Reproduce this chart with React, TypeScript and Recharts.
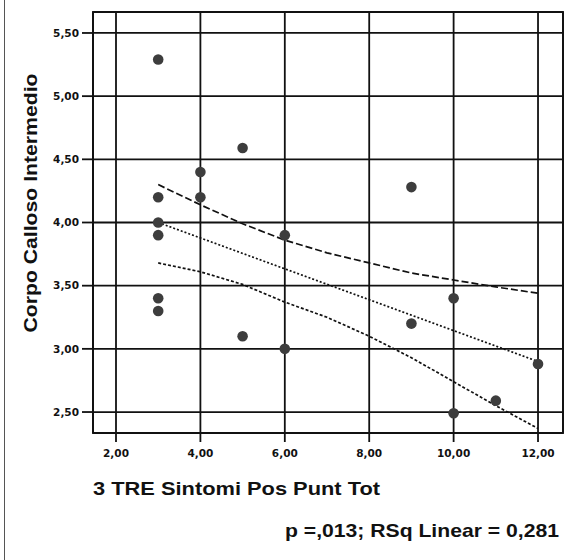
import React from 'react';
import {
  ScatterChart,
  Scatter,
  XAxis,
  YAxis,
  CartesianGrid,
  ReferenceArea,
} from 'recharts';

// Observed cases: symptom score vs. corpus callosum (intermediate) measure
const pointX = [3, 3, 3, 3, 3, 3, 4, 4, 5, 5, 6, 6, 9, 9, 10, 10, 11, 12];
const pointY = [5.29, 4.2, 4.0, 3.9, 3.4, 3.3, 4.4, 4.2, 4.59, 3.1, 3.9, 3.0, 4.28, 3.2, 3.4, 2.49, 2.59, 2.88];

// Linear fit line
const fitX = [3, 12];
const fitY = [4.0, 2.9];

// 95% confidence band for the mean
const bandX = [3, 4, 5, 6, 7, 8, 9, 10, 11, 12];
const upperY = [4.3, 4.14, 3.99, 3.86, 3.76, 3.68, 3.6, 3.545, 3.49, 3.44];
const lowerY = [3.68, 3.61, 3.51, 3.37, 3.25, 3.1, 2.93, 2.74, 2.55, 2.37];

// Axis ticks and labels
const xTicks = [2, 4, 6, 8, 10, 12];
const xTickLabels = ['2,00', '4,00', '6,00', '8,00', '10,00', '12,00'];
const yTicks = [2.5, 3.0, 3.5, 4.0, 4.5, 5.0, 5.5];
const yTickLabels = ['2,50', '3,00', '3,50', '4,00', '4,50', '5,00', '5,50'];

const xDomain: [number, number] = [1.455, 12.592];
const yDomain: [number, number] = [2.334, 5.666];

const xTitle = '3 TRE Sintomi Pos Punt Tot';
const yTitle = 'Corpo Calloso Intermedio';
const footnote = 'p =,013; RSq Linear = 0,281';

const toPairs = (xs: number[], ys: number[]) => xs.map((x, i) => ({ x, y: ys[i] }));

const points = toPairs(pointX, pointY);
const fitLine = toPairs(fitX, fitY);
const upperBand = toPairs(bandX, upperY);
const lowerBand = toPairs(bandX, lowerY);

const tickFont = {
  fontFamily: '"DejaVu Sans", sans-serif',
  fontWeight: 700,
  fontSize: 10.5,
  fill: '#111',
};

const titleFont = {
  fontFamily: '"Liberation Sans", Arial, sans-serif',
  fontWeight: 700,
  fontSize: 19,
  fill: '#111',
};

const gridStroke = { stroke: '#111', strokeWidth: 1.8 };

const Dot = (props: any) => (
  <circle cx={props.cx} cy={props.cy} r={5.3} fill="#3d3d3d" />
);

const NoMarker = () => <g />;

export default function App() {
  return (
    <div
      style={{
        position: 'absolute',
        left: 0,
        top: 0,
        width: 572,
        height: 560,
        background: '#fff',
        overflow: 'hidden',
      }}
    >
      <div
        style={{
          position: 'absolute',
          left: 4,
          top: 0,
          width: 1,
          height: 560,
          background: '#555',
        }}
      />
      <ScatterChart
        width={572}
        height={560}
        margin={{ top: 12, right: 9, bottom: 0, left: 0 }}
      >
        <CartesianGrid {...gridStroke} />
        <XAxis
          type="number"
          dataKey="x"
          domain={xDomain}
          ticks={xTicks}
          allowDataOverflow
          height={127}
          tickSize={9}
          tickMargin={8}
          tickLine={gridStroke}
          axisLine={gridStroke}
          tick={tickFont}
          tickFormatter={(v: number) => xTickLabels[xTicks.indexOf(v)] ?? ''}
        />
        <YAxis
          type="number"
          dataKey="y"
          domain={yDomain}
          ticks={yTicks}
          allowDataOverflow
          width={93}
          tickSize={11}
          tickMargin={3}
          tickLine={gridStroke}
          axisLine={gridStroke}
          tick={tickFont}
          tickFormatter={(v: number) => yTickLabels[yTicks.indexOf(v)] ?? ''}
        />
        <ReferenceArea
          x1={xDomain[0]}
          x2={xDomain[1]}
          y1={yDomain[0]}
          y2={yDomain[1]}
          fill="none"
          {...gridStroke}
          ifOverflow="visible"
        />
        <Scatter
          data={upperBand}
          shape={NoMarker}
          line={{ stroke: '#111', strokeWidth: 1.7, strokeDasharray: '7 3' }}
          isAnimationActive={false}
        />
        <Scatter
          data={lowerBand}
          shape={NoMarker}
          line={{ stroke: '#111', strokeWidth: 1.7, strokeDasharray: '3 2' }}
          isAnimationActive={false}
        />
        <Scatter
          data={fitLine}
          shape={NoMarker}
          line={{ stroke: '#111', strokeWidth: 1.7, strokeDasharray: '2 2' }}
          isAnimationActive={false}
        />
        <Scatter data={points} shape={Dot} isAnimationActive={false} />
      </ScatterChart>
      <svg
        width={572}
        height={560}
        style={{ position: 'absolute', left: 0, top: 0, pointerEvents: 'none' }}
      >
        <text
          x={37}
          y={203}
          transform="rotate(-90, 37, 203)"
          textAnchor="middle"
          textLength={259}
          lengthAdjust="spacingAndGlyphs"
          style={titleFont}
        >
          {yTitle}
        </text>
        <text
          x={93}
          y={495}
          textLength={287}
          lengthAdjust="spacingAndGlyphs"
          style={titleFont}
        >
          {xTitle}
        </text>
        <text
          x={285}
          y={537}
          textLength={274}
          lengthAdjust="spacingAndGlyphs"
          style={titleFont}
        >
          {footnote}
        </text>
      </svg>
    </div>
  );
}
